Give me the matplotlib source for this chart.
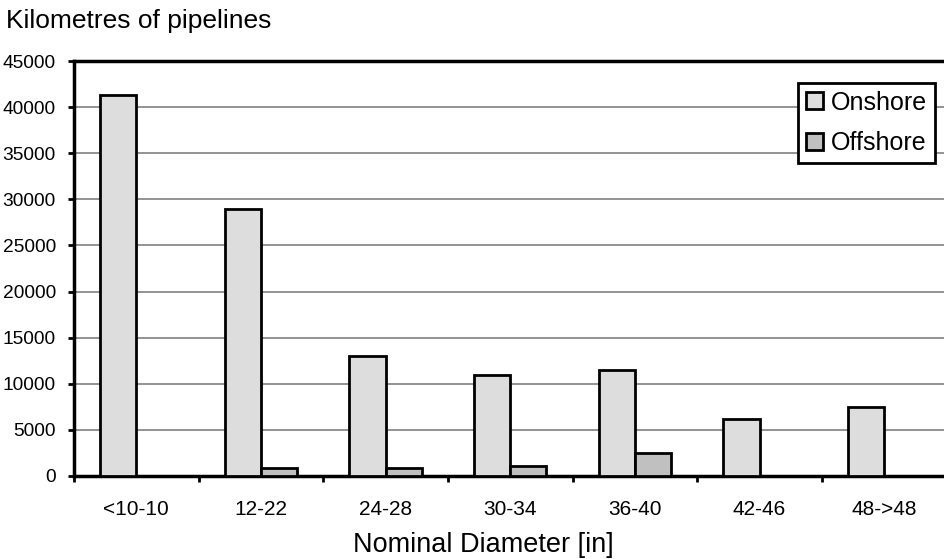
import matplotlib
matplotlib.use("Agg")
import matplotlib.pyplot as plt
import numpy as np
from matplotlib.ticker import FixedLocator, NullFormatter

plt.rcParams['font.family'] = ['Liberation Sans', 'DejaVu Sans']

categories = ["<10-10", "12-22", "24-28", "30-34", "36-40", "42-46", "48->48"]
onshore = [41300, 29000, 13000, 11000, 11500, 6200, 7500]
offshore = [0, 900, 900, 1100, 2500, 0, 0]
yticks = [0, 5000, 10000, 15000, 20000, 25000, 30000, 35000, 40000, 45000]

fig = plt.figure(figsize=(9.44, 5.59), dpi=100)
ax = fig.add_axes([74/944, 83/559, 872.6/944, 415/559])

x = np.arange(len(categories))
w = 0.29
ax.bar(x - w/2, onshore, width=w, color="#dddddd", edgecolor="black", linewidth=2, zorder=3, label="Onshore")
ax.bar(x + w/2, offshore, width=w, color="#c0c0c0", edgecolor="black", linewidth=2, zorder=3, label="Offshore")

ax.set_xlim(-0.5, len(categories) - 0.5)
ax.set_ylim(0, 45000)
ax.set_yticks(yticks)
ax.set_yticklabels([str(v) for v in yticks], fontsize=13.8)
ax.yaxis.grid(True, color="#808080", linewidth=1.2, zorder=0)
ax.set_axisbelow(True)

ax.xaxis.set_major_locator(FixedLocator(np.arange(-0.5, len(categories), 1.0)))
ax.xaxis.set_major_formatter(NullFormatter())
ax.xaxis.set_minor_locator(FixedLocator(x))
ax.set_xticklabels(categories, minor=True, fontsize=15)
ax.tick_params(axis='x', which='major', length=4.5, width=2, direction='out')
ax.tick_params(axis='x', which='minor', length=0, pad=17)
ax.tick_params(axis='y', length=4.5, width=2, direction='out', pad=8.5)

for s in ["left", "bottom", "top", "right"]:
    ax.spines[s].set_linewidth(2.5)
    ax.spines[s].set_color("black")

ax.set_xlabel("Nominal Diameter [in]", fontsize=19.5, va="center")
ax.xaxis.set_label_coords((483.5 - 74) / 872.6, -(545 - 476) / 415)
fig.text(6/944, 1 - 21/559, "Kilometres of pipelines", fontsize=19, va="center", ha="left")

leg = ax.legend(loc="upper right", bbox_to_anchor=((935-74)/872.6, (476-83)/415),
                fontsize=18, frameon=True, fancybox=False, edgecolor="black",
                handlelength=0.68, handleheight=0.68, handletextpad=0.35,
                borderpad=0.3, labelspacing=0.68, borderaxespad=0)
leg.get_frame().set_linewidth(2)
leg.get_frame().set_alpha(1)

fig.savefig("out.png", dpi=100)
